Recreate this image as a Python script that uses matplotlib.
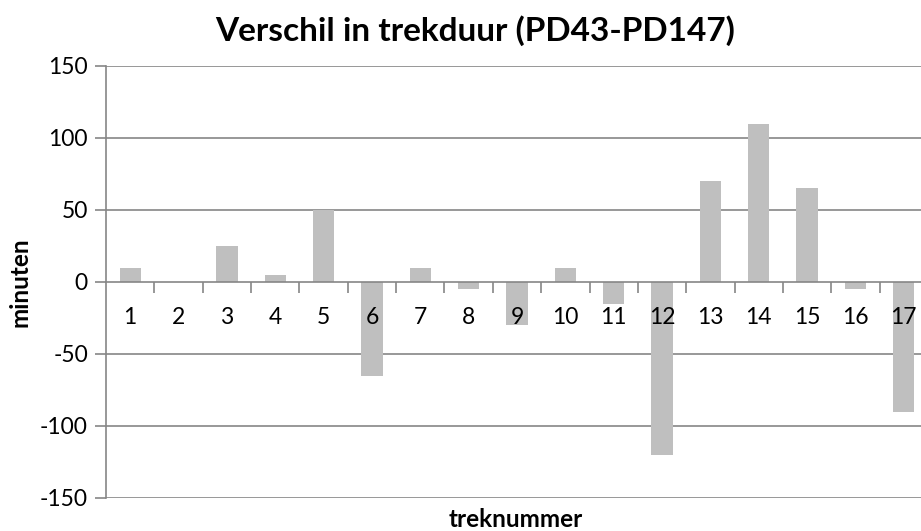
import matplotlib
matplotlib.use("Agg")
import matplotlib.pyplot as plt
import numpy as np

categories = [str(i) for i in range(1, 18)]
values = [10, 0, 25, 5, 50, -65, 10, -5, -30, 10, -15, -120, 70, 110, 65, -5, -90]
yticks = [-150, -100, -50, 0, 50, 100, 150]

plt.rcParams['font.family'] = ['Lato', 'DejaVu Sans']

fig = plt.figure(figsize=(9.21, 5.31), dpi=100)
ax = fig.add_axes([106/921, 1-498/531, 822/921, 432/531])

x = np.arange(len(categories))
for v in yticks:
    if v != 0:
        ax.axhline(v, color='#868686', linewidth=1.2, zorder=0)
ax.bar(x, values, width=0.44, color='#BFBFBF', zorder=1)

ax.set_xlim(-0.5, len(categories) - 0.5)
ax.set_ylim(-150, 150)
ax.set_yticks(yticks)
ax.set_yticklabels([str(v) for v in yticks], fontsize=16.5)
ax.tick_params(axis='y', length=8, width=1.2, color='#868686', pad=5)

for s in ['top', 'right']:
    ax.spines[s].set_visible(False)
ax.spines['left'].set_color('#868686')
ax.spines['left'].set_linewidth(1.2)
ax.spines['bottom'].set_position(('data', 0))
ax.spines['bottom'].set_color('#868686')
ax.spines['bottom'].set_linewidth(1.2)

ax.set_xticks(x)
ax.set_xticklabels(categories, fontsize=16.5)
ax.tick_params(axis='x', which='major', length=0, pad=18)
ax.set_xticks(np.arange(0.5, len(categories) - 0.5, 1), minor=True)
ax.tick_params(axis='x', which='minor', length=8, width=1.2, color='#868686', direction='out')

fig.text(475/921, 1-41/531, 'Verschil in trekduur (PD43-PD147)', fontsize=24,
         fontweight='bold', ha='center', va='baseline')
fig.text(20/921, 1-282/531, 'minuten', fontsize=17.5, fontweight='bold',
         rotation=90, ha='center', va='center')
fig.text(516/921, 1-527/531, 'treknummer', fontsize=17.5, fontweight='bold',
         ha='center', va='baseline')

fig.savefig('out.png', dpi=100)
